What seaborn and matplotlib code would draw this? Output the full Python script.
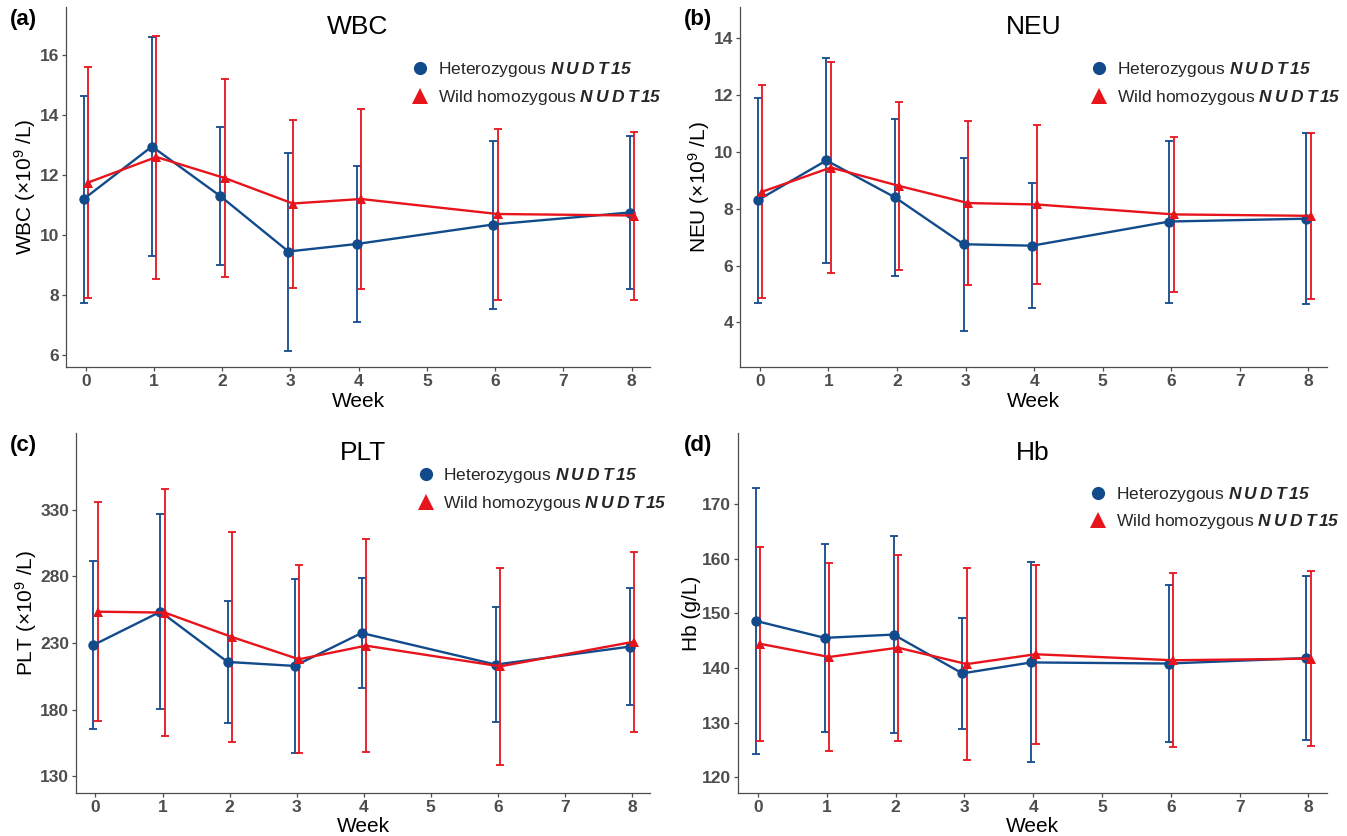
import matplotlib
matplotlib.use("Agg")
import matplotlib.pyplot as plt
from matplotlib.lines import Line2D
import seaborn as sns
import pandas as pd
import numpy as np

# ---------------- data ----------------
weeks = [0, 1, 2, 3, 4, 6, 8]
week_ticks = [0, 1, 2, 3, 4, 5, 6, 7, 8]

wbc_het_mean = [11.2, 12.95, 11.3, 9.45, 9.7, 10.35, 10.75]
wbc_het_sd = [3.45, 3.65, 2.3, 3.3, 2.6, 2.8, 2.55]
wbc_wild_mean = [11.75, 12.6, 11.9, 11.05, 11.2, 10.7, 10.65]
wbc_wild_sd = [3.85, 4.05, 3.3, 2.8, 3.0, 2.85, 2.8]

neu_het_mean = [8.3, 9.7, 8.4, 6.75, 6.7, 7.55, 7.65]
neu_het_sd = [3.6, 3.6, 2.75, 3.05, 2.2, 2.85, 3.0]
neu_wild_mean = [8.6, 9.45, 8.8, 8.2, 8.15, 7.8, 7.75]
neu_wild_sd = [3.75, 3.72, 2.97, 2.9, 2.8, 2.72, 2.92]

plt_het_mean = [228.5, 253.5, 215.8, 212.8, 237.5, 213.8, 227.3]
plt_het_sd = [63.0, 73.0, 45.8, 65.0, 41.0, 43.0, 44.0]
plt_wild_mean = [253.5, 252.8, 234.5, 217.8, 228.0, 212.5, 231.0]
plt_wild_sd = [82.0, 92.5, 79.0, 70.5, 80.0, 74.0, 67.6]

hb_het_mean = [148.6, 145.5, 146.1, 139.0, 141.0, 140.8, 141.8]
hb_het_sd = [24.3, 17.2, 18.0, 10.2, 18.3, 14.3, 15.0]
hb_wild_mean = [144.4, 142.0, 143.7, 140.7, 142.5, 141.4, 141.7]
hb_wild_sd = [17.7, 17.2, 17.0, 17.6, 16.4, 15.9, 16.0]

group_labels = ["Heterozygous", "Wild homozygous"]
gene_label = r"$\mathbf{N\:U\:D\:T\,15}$"
panel_tags = ["(a)", "(b)", "(c)", "(d)"]
panel_titles = ["WBC", "NEU", "PLT", "Hb"]
y_labels = ["WBC (×10$^{9}$ /L)", "NEU (×10$^{9}$ /L)", "PLT (×10$^{9}$ /L)", "Hb (g/L)"]
y_ticks = [[6, 8, 10, 12, 14, 16], [4, 6, 8, 10, 12, 14],
           [130, 180, 230, 280, 330], [120, 130, 140, 150, 160, 170]]
y_limits = [(5.6, 17.6), (2.43, 15.1), (117.5, 387.5), (117.1, 183.0)]

panels = [
    (wbc_het_mean, wbc_het_sd, wbc_wild_mean, wbc_wild_sd),
    (neu_het_mean, neu_het_sd, neu_wild_mean, neu_wild_sd),
    (plt_het_mean, plt_het_sd, plt_wild_mean, plt_wild_sd),
    (hb_het_mean, hb_het_sd, hb_wild_mean, hb_wild_sd),
]

# ---------------- style ----------------
sns.set_theme(style="white")
plt.rcParams["font.family"] = ["Liberation Sans", "DejaVu Sans"]
plt.rcParams["mathtext.fontset"] = "custom"
plt.rcParams["mathtext.rm"] = "Liberation Sans"
plt.rcParams["mathtext.it"] = "Liberation Sans:italic"
plt.rcParams["mathtext.bf"] = "Liberation Sans:italic:bold"

BLUE = "#124b8c"
RED = "#e8141c"
GRAY = "#4d4d4d"
palette = {group_labels[0]: BLUE, group_labels[1]: RED}
markers = {group_labels[0]: "o", group_labels[1]: "^"}
dodge = {group_labels[0]: -0.03, group_labels[1]: 0.035}

fig = plt.figure(figsize=(13.47, 8.36), dpi=100)
W, H = 1347, 836
# axes rectangles in pixel coords (left, top, right, bottom)
rects = [(66, 7, 650, 367), (740, 7, 1327, 367), (76, 433, 650, 793), (738, 433, 1327, 793)]
tag_pos = [(10, 20), (684, 20), (10, 446), (684, 446)]
legend_x = [0.595, 0.600, 0.597, 0.600]
legend_y = [0.722, 0.722, 0.778, 0.727]
xlabel_y = [-0.069, -0.069, -0.067, -0.067]

for i, (hm, hs, wm, ws) in enumerate(panels):
    l, t, r, b = rects[i]
    ax = fig.add_axes([l / W, 1 - b / H, (r - l) / W, (b - t) / H])
    df = pd.DataFrame({
        "week": weeks * 2,
        "mean": list(hm) + list(wm),
        "sd": list(hs) + list(ws),
        "group": [group_labels[0]] * len(weeks) + [group_labels[1]] * len(weeks),
    })
    df["x"] = df["week"] + df["group"].map(dodge)
    for g in group_labels:
        sub = df[df["group"] == g]
        ax.errorbar(sub["x"], sub["mean"], yerr=sub["sd"], fmt="none",
                    ecolor=palette[g], elinewidth=1.3, capsize=2.8, capthick=1.3,
                    zorder=1.5)
    sns.lineplot(data=df, x="x", y="mean", hue="group", style="group",
                 markers=markers, dashes=False, palette=palette, sort=False,
                 markersize=7.5, markeredgewidth=0, linewidth=1.7,
                 errorbar=None, legend=False, ax=ax, zorder=3)

    ax.set_xlim(-0.29, 8.27)
    ax.set_ylim(*y_limits[i])
    ax.set_xticks(week_ticks)
    ax.set_yticks(y_ticks[i])
    ax.tick_params(axis="both", which="both", length=3, width=0.9, color=GRAY,
                   labelcolor=GRAY, labelsize=12.5, pad=2, bottom=True, left=True)
    for lab in ax.get_xticklabels() + ax.get_yticklabels():
        lab.set_fontweight("bold")
    ax.set_xlabel("Week", fontsize=15, color="black", va="top")
    ax.xaxis.set_label_coords(0.5, xlabel_y[i])
    ax.set_ylabel(y_labels[i], fontsize=15, color="black", labelpad=1)
    for s in ["top", "right"]:
        ax.spines[s].set_visible(False)
    for s in ["left", "bottom"]:
        ax.spines[s].set_color(GRAY)
        ax.spines[s].set_linewidth(0.9)
    ax.grid(False)

    ax.text(0.5, 0.945, panel_titles[i], transform=ax.transAxes, ha="center",
            va="center", fontsize=19, color="black")

    handles = [
        Line2D([], [], linestyle="none", marker="o", color=BLUE, markersize=9.5,
               markeredgewidth=0, label=group_labels[0] + " " + gene_label),
        Line2D([], [], linestyle="none", marker="^", color=RED, markersize=11,
               markeredgewidth=0, label=group_labels[1] + " " + gene_label),
    ]
    ax.legend(handles=handles, loc="lower left",
              bbox_to_anchor=(legend_x[i], legend_y[i]), frameon=False,
              fontsize=12.5, handlelength=0.8, handletextpad=0.6,
              labelspacing=0.5, borderaxespad=0, borderpad=0)

    tx, ty = tag_pos[i]
    fig.text(tx / W, 1 - ty / H, panel_tags[i], fontsize=16, fontweight="bold",
             ha="left", va="center", color="black")

fig.savefig("out.png", dpi=100, facecolor="white")
